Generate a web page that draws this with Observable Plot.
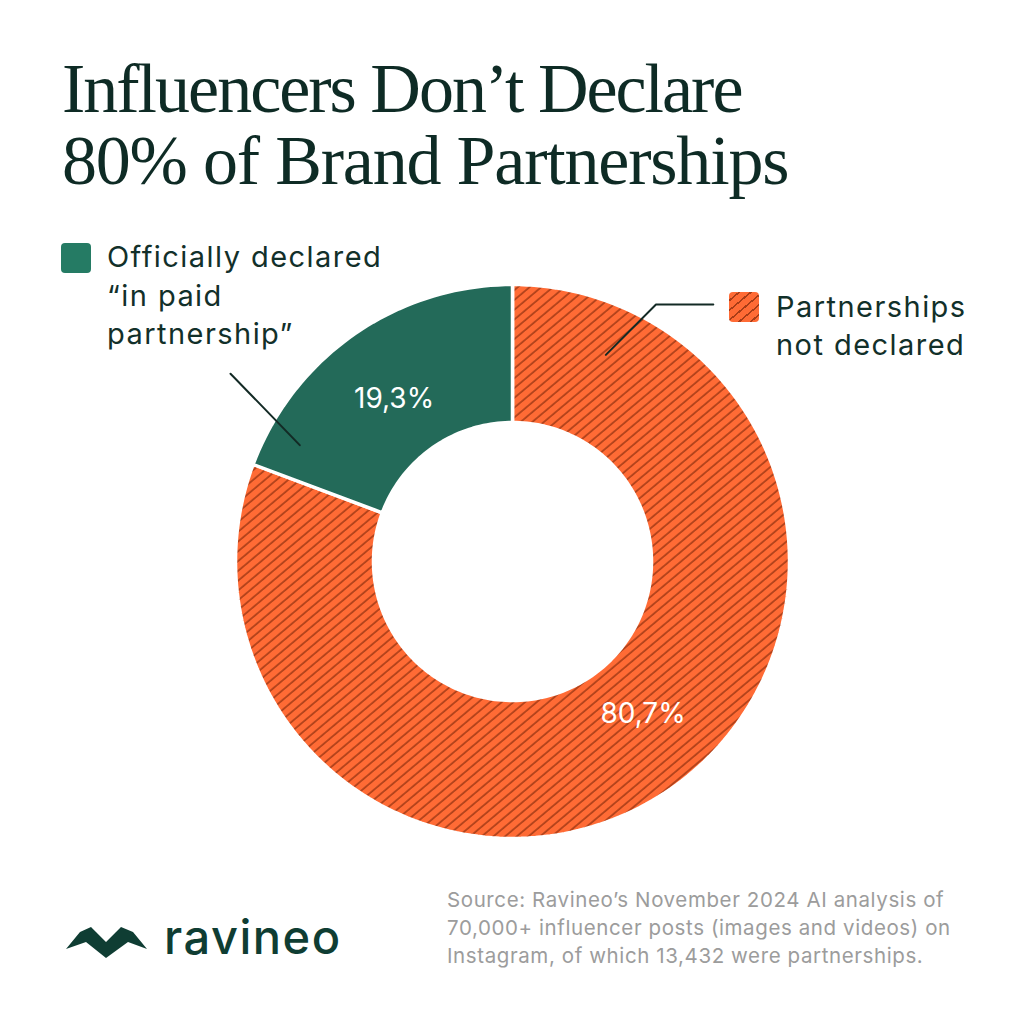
<!DOCTYPE html>
<html>
<head>
<meta charset="utf-8">
<script src="https://cdn.jsdelivr.net/npm/d3@7"></script>
<script src="https://cdn.jsdelivr.net/npm/@observablehq/plot@0.6"></script>
<style>
  body { margin: 0; background: #fff; }
  #page { position: relative; width: 1024px; height: 1024px; overflow: hidden; background: #fff; font-family: Inter, "Noto Sans", sans-serif; color: #12302a; }
  #title { position: absolute; left: 62px; top: 53px; margin: 0; font-family: "Liberation Serif", serif; font-weight: 400; font-size: 70px; line-height: 72px; color: #0e2b25; white-space: nowrap; }
  #title .l1 { letter-spacing: -2px; }
  #title .l2 { letter-spacing: -1.2px; }
  #chart { position: absolute; left: 0; top: 230px; }
  .legend { position: absolute; font-size: 29px; line-height: 38.5px; letter-spacing: 1.45px; color: #12302a; white-space: nowrap; }
  .swatch { position: absolute; width: 30px; height: 30px; border-radius: 4px; }
  #caption { position: absolute; left: 447px; top: 886px; font-size: 20.5px; line-height: 28px; letter-spacing: 0.6px; color: #9c9c9c; white-space: nowrap; }
  #brand { position: absolute; left: 164px; top: 913px; font-size: 47px; line-height: 47px; font-weight: 500; letter-spacing: 1.5px; color: #0f3d33; }
  #logo { position: absolute; left: 0; top: 0; }
</style>
</head>
<body>
<div id="page">
  <h1 id="title"><span class="l1">Influencers Don’t Declare</span><br><span class="l2">80% of Brand Partnerships</span></h1>
  <div id="chart"></div>
  <div class="swatch" id="sw0"></div>
  <div class="legend" id="lg0"></div>
  <div class="swatch" id="sw1"></div>
  <div class="legend" id="lg1"></div>
  <div id="caption">Source: Ravineo’s November 2024 AI analysis of<br>70,000+ influencer posts (images and videos) on<br>Instagram, of which 13,432 were partnerships.</div>
  <svg id="logo" width="200" height="1024" viewBox="0 0 200 1024"><path d="M66,949 L80,932 L91,927 L106,942 L121,927 L133,932 L147,949 L128,942 L106,958 L86,942 Z" fill="#0f3d33"/></svg>
  <div id="brand">ravineo</div>
</div>
<script>
// ---- data ----
const categories = ["Partnerships not declared", "Officially declared “in paid partnership”"];
const shares = [80.7, 19.3];
const shareLabels = ["80,7%", "19,3%"];
const legendLines = [["Partnerships", "not declared"], ["Officially declared", "“in paid", "partnership”"]];
const sliceColors = ["url(#hatch)", "#236a59"];

// ---- layout (not data) ----
const W = 1024, H = 640, R = 277, CX = 512, CY = 331;
const innerRatio = 139 / 277;
const labelFraction = 0.48, labelRadius = 0.725;
const leaders = [
  {id: "right", pts: [[0.337, 0.746], [0.518, 0.928], [0.725, 0.928]]},
  {id: "left", pts: [[-1.018, 0.678], [-0.768, 0.420]]}
];

const slices = categories.map((c, i) => ({category: c, share: shares[i], label: shareLabels[i]}));
const arcs = d3.pie().sort(null).value(d => d.share)(slices);

const ring = [];
const N = 240;
for (const a of arcs) {
  const steps = Math.max(8, Math.round(N * (a.endAngle - a.startAngle) / (2 * Math.PI)));
  for (let k = 0; k <= steps; k++) {
    const t = a.startAngle + (a.endAngle - a.startAngle) * k / steps;
    ring.push({category: a.data.category, x: Math.sin(t), y: Math.cos(t)});
  }
  for (let k = steps; k >= 0; k--) {
    const t = a.startAngle + (a.endAngle - a.startAngle) * k / steps;
    ring.push({category: a.data.category, x: innerRatio * Math.sin(t), y: innerRatio * Math.cos(t)});
  }
}

const labelPts = arcs.map(a => {
  const t = a.startAngle + (a.endAngle - a.startAngle) * labelFraction;
  return {x: labelRadius * Math.sin(t), y: labelRadius * Math.cos(t), text: a.data.label};
});

const leaderPts = leaders.flatMap(l => l.pts.map(([x, y]) => ({id: l.id, x, y})));

const chart = Plot.plot({
  width: W, height: H, margin: 0,
  style: {background: "transparent", overflow: "visible"},
  x: {domain: [-1, 1], range: [CX - R, CX + R], axis: null},
  y: {domain: [-1, 1], range: [CY + R, CY - R], axis: null},
  color: {domain: categories, range: sliceColors},
  marks: [
    Plot.line(ring, {x: "x", y: "y", z: "category", fill: "category", stroke: "white", strokeWidth: 3.5, curve: "linear-closed"}),
    Plot.text(labelPts, {x: "x", y: "y", text: "text", fill: "white", fontSize: 28, fontFamily: "Inter", letterSpacing: "0.5px"}),
    Plot.line(leaderPts, {x: "x", y: "y", z: "id", stroke: "#132a25", strokeWidth: 2})
  ]
});

const defs = d3.select(chart).insert("defs", ":first-child");
const pat = defs.append("pattern").attr("id", "hatch").attr("patternUnits", "userSpaceOnUse")
  .attr("width", 7.5).attr("height", 7.5).attr("patternTransform", "rotate(50)");
pat.append("rect").attr("width", 7.5).attr("height", 7.5).attr("fill", "#ff6b35");
pat.append("line").attr("x1", 1).attr("y1", -1).attr("x2", 1).attr("y2", 9).attr("stroke", "#a83d17").attr("stroke-width", 1.6);

document.getElementById("chart").appendChild(chart);

// legends
const sw0 = document.getElementById("sw0");
sw0.style.left = "729px"; sw0.style.top = "292px";
sw0.style.background = "repeating-linear-gradient(140deg, #ff6b35 0px, #ff6b35 5.9px, #a83d17 5.9px, #a83d17 7.5px)";
const sw1 = document.getElementById("sw1");
sw1.style.left = "61px"; sw1.style.top = "243px"; sw1.style.background = "#257b64";
const lg0 = document.getElementById("lg0");
lg0.style.left = "776px"; lg0.style.top = "287.5px";
lg0.innerHTML = legendLines[0].join("<br>");
const lg1 = document.getElementById("lg1");
lg1.style.left = "107px"; lg1.style.top = "238px";
lg1.innerHTML = legendLines[1].join("<br>");
</script>
</body>
</html>
